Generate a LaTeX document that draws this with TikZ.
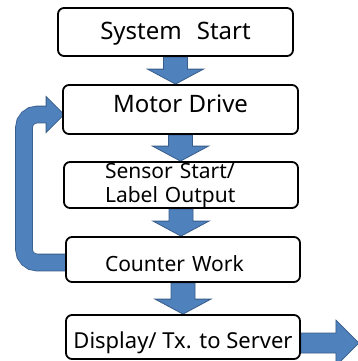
\documentclass[tikz,border=0pt]{standalone}
\usepackage{fontspec}
\setmainfont{Noto Sans}
\usetikzlibrary{calc,backgrounds}
\definecolor{arrowblue}{RGB}{79,129,189}
\definecolor{arrowedge}{RGB}{56,93,138}
\tikzset{
  stepbox/.style={draw=black, line width=1.8pt, rounded corners=6pt, fill=white,
    inner sep=0pt, minimum width=234, font=\fontsize{22}{25}\selectfont},
  onelinebox/.style={stepbox, text depth=0pt},
  blockarrow/.style={fill=arrowblue, draw=arrowedge, line width=0.8pt},
  loopshaft/.style={draw=arrowedge, line width=0.8pt, double=arrowblue,
    double distance=16pt, rounded corners=13pt},
}
% block arrow from the bottom of #1 down to the top of #2
\newcommand{\flowdown}[2]{%
  \path[blockarrow] let \p1=(#1.south), \p2=(#2.north) in
    (\x1-12pt,\y1) -- (\x1+12pt,\y1) -- (\x1+12pt,\y2+15pt) -- (\x1+28pt,\y2+15pt)
    -- (\x1,\y2) -- (\x1-28pt,\y2+15pt) -- (\x1-12pt,\y2+15pt) -- cycle;}
\begin{document}
\begin{tikzpicture}[x=1pt,y=-1pt]
	\useasboundingbox (0,0) rectangle (357,361);
	\node (sys) at (175.5,32)[onelinebox, minimum width=235, minimum height=48, text height=16pt,
		font=\fontsize{24}{25}\selectfont] {System\hspace{15pt}Start};
	\node (motor) at (180.5,109.5)[onelinebox, minimum width=235, minimum height=49, text height=5pt,
		font=\fontsize{24}{25}\selectfont] {Motor Drive};
	\node (sensor) at (181,185)[stepbox, minimum height=46, align=left, text width=152, inner xsep=41,
		font=\fontsize{21}{24}\selectfont] {Sensor Start/\\Label Output};
	\node (counter) at (183,259.5)[onelinebox, minimum height=45, align=left, text width=156, inner xsep=39,
		text height=23pt, font=\fontsize{21}{25}\selectfont] {Counter Work};
	\node (disp) at (183,337)[onelinebox, minimum height=44, text height=22pt] {Display/ Tx. to Server};
	\begin{scope}[on background layer]
		\flowdown{sys}{motor}
		\flowdown{motor}{sensor}
		\flowdown{sensor}{counter}
		\flowdown{counter}{disp}
		% arrow out to the right
		\path[blockarrow] let \p1=(disp.east) in
			(\x1,\y1+4pt) -- (\x1+35pt,\y1+4pt) -- (\x1+35pt,\y1+17pt) -- (\x1+58pt,\y1-6pt)
			-- (\x1+35pt,\y1-29pt) -- (\x1+35pt,\y1-16pt) -- (\x1,\y1-16pt) -- cycle;
		% loop back from counter to motor
		\coordinate (loopstart) at ($(counter.west)+(2,3)$);
		\coordinate (looptip) at ($(motor.west)+(2,5)$);
		\coordinate (loopbase) at ($(looptip)+(-18,0)$);
		\coordinate (loopleft) at (24,0);
		\draw[loopshaft] (loopstart) -- (loopstart -| loopleft) -- (loopleft |- loopbase) -- ($(loopbase)+(1,0)$);
		\path[blockarrow] ($(loopbase)+(0,-8)$) -- ($(loopbase)+(0,-18)$) -- (looptip)
			-- ($(loopbase)+(0,18)$) -- ($(loopbase)+(0,8)$);
	\end{scope}
\end{tikzpicture}
\end{document}
